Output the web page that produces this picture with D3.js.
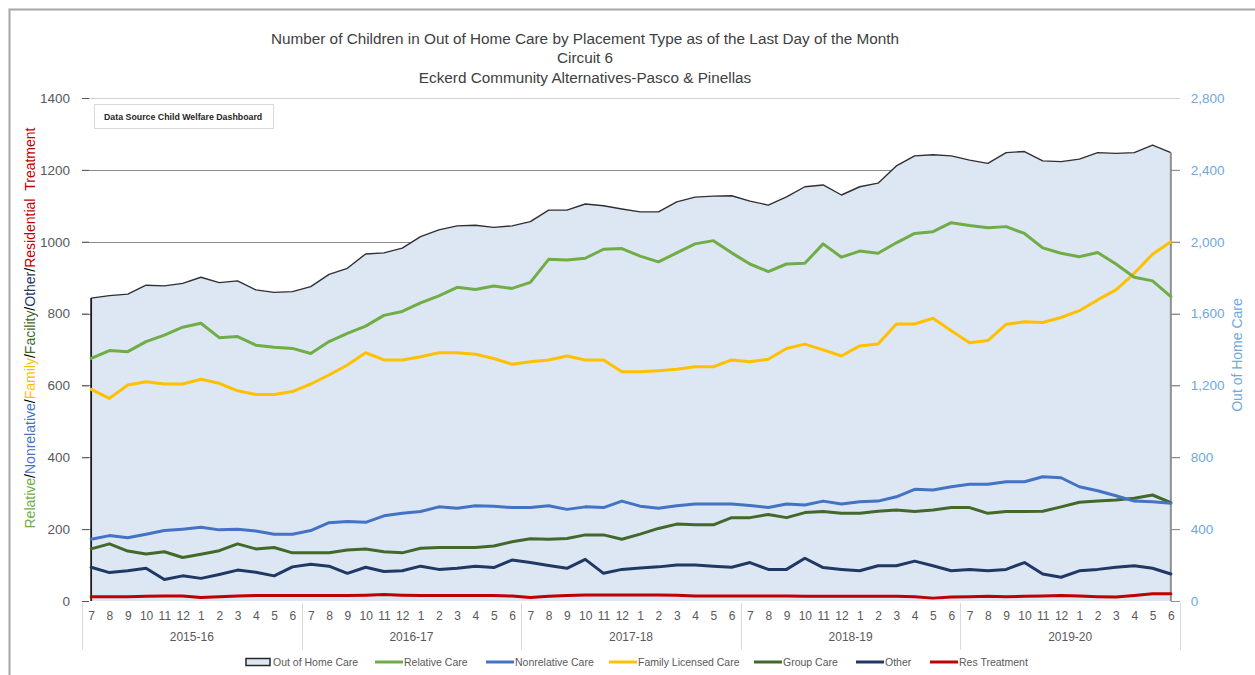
<!DOCTYPE html>
<html>
<head>
<meta charset="utf-8">
<script src="https://cdn.jsdelivr.net/npm/d3@7"></script>
<style>
html,body{margin:0;padding:0;background:#fff;}
svg{display:block;}
</style>
</head>
<body>
<svg id="chart" width="1255" height="675"></svg>
<script>
// ---------------- DATA ----------------
const monthLabels = ["7","8","9","10","11","12","1","2","3","4","5","6"];
const fiscalYears = ["2015-16","2016-17","2017-18","2018-19","2019-20"];
const leftTicks = [0,200,400,600,800,1000,1200,1400];
const rightTicks = [0,400,800,1200,1600,2000,2400,2800];

// Out of Home Care (secondary / right axis)
const outOfHomeCare = [1686,1700,1708,1758,1754,1768,1802,1772,1782,1732,1718,1722,
  1750,1818,1852,1932,1938,1964,2028,2066,2088,2092,2080,2088,
  2112,2176,2176,2210,2200,2182,2166,2166,2222,2248,2254,2256,
  2226,2204,2250,2306,2316,2260,2306,2326,2422,2478,2484,2478,
  2454,2436,2496,2502,2450,2446,2460,2496,2492,2496,2538,2496];
const relativeCare = [675,697,694,722,740,762,773,733,736,712,706,703,
  689,722,745,765,795,806,830,849,873,867,877,870,
  887,951,949,954,979,981,960,944,969,994,1003,969,
  938,917,938,940,994,957,974,968,997,1023,1028,1053,
  1045,1039,1042,1023,983,968,958,970,938,901,891,847];
const nonrelativeCare = [172,182,176,186,196,200,205,198,200,195,186,186,
  196,218,221,219,237,244,249,262,258,265,264,260,
  260,265,255,262,260,278,264,258,265,270,270,270,
  266,260,270,267,278,270,276,278,290,311,309,318,
  325,325,332,332,346,343,318,307,293,278,276,272];
const familyLicensedCare = [589,564,601,610,604,604,617,606,585,575,575,583,
  604,629,657,691,671,671,680,691,691,687,675,659,
  666,671,682,671,671,638,638,641,645,652,652,671,
  666,673,703,715,699,682,710,715,771,771,787,752,
  719,725,770,777,775,789,808,838,866,912,965,1000];
const groupCare = [145,159,139,131,137,121,130,140,159,145,149,134,
  134,134,142,145,137,134,147,149,149,149,153,165,
  173,172,174,184,184,172,186,202,214,212,212,232,
  232,241,232,246,249,244,244,250,253,249,253,260,
  260,244,249,249,250,262,275,278,281,286,295,274];
const other = [94,79,84,91,60,70,63,74,86,80,70,95,
  102,97,77,94,82,84,97,88,91,97,93,114,
  107,99,91,116,77,88,92,95,100,100,97,94,
  107,88,88,119,93,88,84,98,98,111,98,84,
  88,84,88,107,75,66,84,88,94,98,91,75];
const resTreatment = [12,12,12,13,14,14,10,12,14,15,15,15,
  15,15,15,16,18,16,15,15,15,15,15,14,
  10,13,15,17,17,17,17,17,16,14,14,14,
  14,14,14,13,13,13,13,13,13,12,8,11,
  12,13,12,13,14,15,14,12,11,15,20,20];

const titleLines = ["Number of Children in Out of Home Care by Placement Type as of the Last Day of the Month",
  "Circuit 6","Eckerd Community Alternatives-Pasco & Pinellas"];

// ---------------- SETUP ----------------
const F = "'Liberation Sans Narrow','Arial Narrow','Liberation Sans',Arial,sans-serif";
const svg = d3.select("#chart");
svg.append("rect").attr("width",1255).attr("height",675).attr("fill","#fff");

// frame
svg.append("path").attr("d","M9.5,675 V9.5 H1255").attr("fill","none")
  .attr("stroke","#a6a6a6").attr("stroke-width",2);

const categories = [];
fiscalYears.forEach(fy => monthLabels.forEach(m => categories.push(fy + "|" + m)));

const x = d3.scalePoint().domain(categories).range([82,1180]).padding(0.5);
const yL = d3.scaleLinear().domain([0,1400]).range([601,98]);
const yR = d3.scaleLinear().domain([0,2800]).range([601,98]);

// gridlines
svg.append("g").selectAll("line").data(leftTicks.filter(d=>d>0)).join("line")
  .attr("x1",82).attr("x2",1180)
  .attr("y1",d=>Math.round(yL(d))+0.5).attr("y2",d=>Math.round(yL(d))+0.5)
  .attr("stroke",d=>d===1400?"#d0d0d0":"#8c8c8c").attr("stroke-width",1);

// Area (Out of Home Care)
const area = d3.area().x((d,i)=>x(categories[i])).y0(yR(0)).y1(d=>yR(d)).curve(d3.curveLinear);
svg.append("path").datum(outOfHomeCare).attr("d",area).attr("fill","#dce7f3").attr("stroke","none");
const topLine = d3.line().x((d,i)=>x(categories[i])).y(d=>yR(d));
svg.append("path").datum(outOfHomeCare).attr("d",topLine).attr("fill","none")
  .attr("stroke","#303030").attr("stroke-width",1.4).attr("stroke-linejoin","round");
// area sides
const x0 = x(categories[0]), xN = x(categories[categories.length-1]);
svg.append("line").attr("x1",x0).attr("x2",x0).attr("y1",yR(outOfHomeCare[0])).attr("y2",yR(0))
  .attr("stroke","#1a1a1a").attr("stroke-width",1.8);
svg.append("line").attr("x1",xN).attr("x2",xN).attr("y1",yR(outOfHomeCare[outOfHomeCare.length-1])).attr("y2",yR(0))
  .attr("stroke","#8f8f8f").attr("stroke-width",2);

// Data Source box
svg.append("rect").attr("x",94.5).attr("y",104.5).attr("width",179).attr("height",24)
  .attr("fill","#fff").attr("stroke","#d9d9d9");
svg.append("text").attr("x",104).attr("y",120).attr("font-family",F).attr("font-size",8.8)
  .attr("font-weight","bold").attr("fill","#262626").text("Data Source Child Welfare Dashboard");

// series lines
const series = [
  {name:"Relative Care", values:relativeCare, color:"#70ad47"},
  {name:"Nonrelative Care", values:nonrelativeCare, color:"#4472c4"},
  {name:"Family Licensed Care", values:familyLicensedCare, color:"#ffc000"},
  {name:"Group Care", values:groupCare, color:"#43682b"},
  {name:"Other", values:other, color:"#203864"},
  {name:"Res Treatment", values:resTreatment, color:"#c00000"}
];
const line = d3.line().x((d,i)=>x(categories[i])).y(d=>yL(d));
[...series].reverse().forEach(s=>{
  svg.append("path").datum(s.values).attr("d",line).attr("fill","none")
    .attr("stroke",s.color).attr("stroke-width",3).attr("stroke-linejoin","round").attr("stroke-linecap","round");
});

// Left axis
const leftAxis = d3.axisLeft(yL).tickValues(leftTicks).tickSize(7).tickPadding(12).tickFormat(d3.format("d"));
const gL = svg.append("g").attr("transform","translate(89,0)").call(leftAxis);
gL.select(".domain").remove();
gL.selectAll(".tick line").attr("stroke","#595959");
gL.selectAll("text").attr("font-family",F).attr("font-size",13.5).attr("fill","#595959");

// Right axis
const rightAxis = d3.axisRight(yR).tickValues(rightTicks).tickSize(9).tickPadding(11).tickFormat(d3.format(","));
const gR = svg.append("g").attr("transform",`translate(${xN},0)`).call(rightAxis);
gR.select(".domain").remove();
gR.selectAll(".tick line").attr("stroke","#8f8f8f");
gR.selectAll(".tick").filter(d=>d===2800).select("line").remove();
gR.selectAll("text").attr("font-family",F).attr("font-size",13.5).attr("fill","#6fa8dc");

// X axis: months
const xAxis = d3.axisBottom(x).tickSize(0).tickPadding(8).tickFormat(d=>d.split("|")[1]);
const gX = svg.append("g").attr("transform","translate(0,603)").call(xAxis);
gX.select(".domain").remove();
gX.selectAll("text").attr("font-family",F).attr("font-size",12).attr("fill","#595959");

// year group separators and labels
const step = x.step();
const yearBounds = fiscalYears.map((fy,i)=>x(fy+"|"+monthLabels[0]) - step/2);
yearBounds.push(x(fiscalYears[fiscalYears.length-1]+"|"+monthLabels[11]) + step/2);
svg.append("g").selectAll("line").data(yearBounds).join("line")
  .attr("x1",d=>Math.round(d)+0.5).attr("x2",d=>Math.round(d)+0.5)
  .attr("y1",603).attr("y2",650).attr("stroke","#d9d9d9");
svg.append("g").selectAll("text").data(fiscalYears).join("text")
  .attr("x",(d,i)=>(yearBounds[i]+yearBounds[i+1])/2).attr("y",641)
  .attr("text-anchor","middle").attr("font-family",F).attr("font-size",12).attr("fill","#595959")
  .text(d=>d);

// Titles
svg.append("g").selectAll("text").data(titleLines).join("text")
  .attr("x",585).attr("y",(d,i)=>[44,63,83][i]).attr("text-anchor","middle")
  .attr("font-family",F).attr("font-size",15.3).attr("fill","#404040").text(d=>d);

// Left axis title (multi-colour)
const lt = svg.append("text").attr("transform","translate(35,328) rotate(-90)")
  .attr("text-anchor","middle").attr("font-family",F).attr("font-size",14);
[["Relative","#70ad47"],["/","#000"],["Nonrelative","#4472c4"],["/","#000"],["Family","#ffc000"],["/","#000"],
 ["Facility","#43682b"],["/","#000"],["Other","#203864"],["/","#000"],["Residential\u00a0\u00a0Treatment","#c00000"]]
 .forEach(([t,c])=>lt.append("tspan").attr("fill",c).text(t));

// Right axis title
svg.append("text").attr("transform","translate(1242,355) rotate(-90)").attr("text-anchor","middle")
  .attr("font-family",F).attr("font-size",14).attr("fill","#6fa8dc").text("Out of Home Care");

// Legend
const legendItems = [
  {name:"Out of Home Care", type:"box", x:246},
  {name:"Relative Care", color:"#70ad47", x:375},
  {name:"Nonrelative Care", color:"#4472c4", x:486},
  {name:"Family Licensed Care", color:"#ffc000", x:609},
  {name:"Group Care", color:"#43682b", x:754},
  {name:"Other", color:"#203864", x:856},
  {name:"Res Treatment", color:"#c00000", x:930}
];
const lg = svg.append("g");
legendItems.forEach(it=>{
  if(it.type==="box"){
    lg.append("rect").attr("x",it.x).attr("y",658.5).attr("width",24).attr("height",7)
      .attr("fill","#dce7f3").attr("stroke","#262626").attr("stroke-width",1.5);
  } else {
    lg.append("line").attr("x1",it.x).attr("x2",it.x+28).attr("y1",662).attr("y2",662)
      .attr("stroke",it.color).attr("stroke-width",3);
  }
  lg.append("text").attr("x",it.x+(it.type==="box"?27:29)).attr("y",666)
    .attr("font-family",F).attr("font-size",10.5).attr("fill","#595959").text(it.name);
});
</script>
</body>
</html>
